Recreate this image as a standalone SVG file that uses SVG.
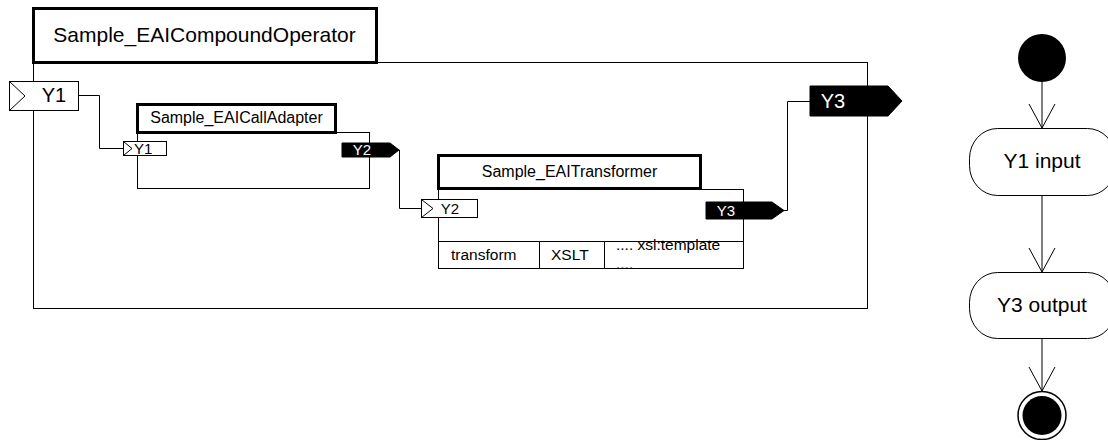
<svg xmlns="http://www.w3.org/2000/svg" width="1108" height="440" viewBox="0 0 1108 440">
<style>
  text { font-family: "Liberation Sans", Arial, sans-serif; fill: #000; }
  .box { fill: #fff; stroke: #000; stroke-width: 1; }
  .title { fill: #fff; stroke: #000; stroke-width: 3; }
  .inport { fill: #fff; stroke: #000; stroke-width: 1; }
  .tri { fill: none; stroke: #000; stroke-width: 1; }
  .outport { fill: #000; stroke: #000; stroke-width: 1; }
  .wt { fill: #fff; }
  .conn { fill: none; stroke: #000; stroke-width: 1; }
  .act { fill: #fff; stroke: #000; stroke-width: 1; }
</style>
<defs>
  <clipPath id="cellclip"><rect x="605" y="238" width="139" height="31"/></clipPath>
</defs>
<rect width="1108" height="440" fill="#fff"/>

<g id="compound">
  <rect class="box" x="33.5" y="62.5" width="834" height="246"/>
  <rect class="title" x="33.5" y="8.5" width="343" height="54"/>
  <text x="204.5" y="42" font-size="21" text-anchor="middle">Sample_EAICompoundOperator</text>
</g>

<g id="port-Y1-in">
  <rect class="inport" x="9.5" y="81.5" width="69" height="29"/>
  <polyline class="tri" points="9.5,81.5 25,96 9.5,110.5"/>
  <text x="54" y="102" font-size="20" text-anchor="middle">Y1</text>
</g>

<g id="port-Y3-out">
  <polygon class="outport" points="810,86 888,86 902,101 888,116 810,116"/>
  <text class="wt" x="833" y="108" font-size="20" text-anchor="middle">Y3</text>
</g>

<g id="calladapter">
  <rect class="box" x="137.5" y="132.5" width="232" height="56"/>
  <rect class="title" x="137.5" y="104.5" width="198" height="28"/>
  <text x="236.5" y="123" font-size="16" text-anchor="middle">Sample_EAICallAdapter</text>
</g>

<g id="calladapter-Y1">
  <rect class="inport" x="123.5" y="141.5" width="43" height="14"/>
  <polyline class="tri" points="123.5,141.5 132,148.5 123.5,155.5"/>
  <text x="134" y="154" font-size="15">Y1</text>
</g>

<g id="calladapter-Y2">
  <polygon class="outport" points="342,143 390,143 399,150 390,157 342,157"/>
  <text class="wt" x="362" y="155" font-size="15" text-anchor="middle">Y2</text>
</g>

<g id="transformer">
  <rect class="box" x="438.5" y="189.5" width="305" height="79"/>
  <rect class="title" x="438.5" y="155.5" width="262" height="33"/>
  <text x="569.5" y="177" font-size="16" text-anchor="middle">Sample_EAITransformer</text>
  <rect class="box" x="438.5" y="241.5" width="305" height="27"/>
  <line class="conn" x1="539.5" y1="241.5" x2="539.5" y2="268.5"/>
  <line class="conn" x1="604.5" y1="241.5" x2="604.5" y2="268.5"/>
  <text x="451" y="260" font-size="15.5">transform</text>
  <text x="551" y="260" font-size="15.5">XSLT</text>
  <g clip-path="url(#cellclip)">
    <text x="616" y="250" font-size="15.5">.... xsl:template</text>
    <text x="616" y="268.5" font-size="15.5">....</text>
  </g>
  <line class="conn" x1="438.5" y1="268.5" x2="743.5" y2="268.5"/>
</g>

<g id="transformer-Y2">
  <rect class="inport" x="421.5" y="199.5" width="56" height="18"/>
  <polyline class="tri" points="421.5,199.5 433,208.5 421.5,217.5"/>
  <text x="450" y="214" font-size="15" text-anchor="middle">Y2</text>
</g>

<g id="transformer-Y3">
  <polygon class="outport" points="706,202 772,202 784,210.5 772,219 706,219"/>
  <text class="wt" x="726" y="216" font-size="15" text-anchor="middle">Y3</text>
</g>

<g id="start">
  <circle cx="1042" cy="58" r="24" fill="#000"/>
</g>
<g id="y1input">
  <rect class="act" x="969.5" y="128.5" width="146" height="67" rx="28" ry="30"/>
  <text x="1042" y="168" font-size="21" text-anchor="middle">Y1 input</text>
</g>
<g id="y3output">
  <rect class="act" x="969.5" y="272.5" width="146" height="66" rx="28" ry="30"/>
  <text x="1042" y="312" font-size="21" text-anchor="middle">Y3 output</text>
</g>
<g id="end">
  <circle cx="1042" cy="415.5" r="24" fill="#fff" stroke="#000" stroke-width="1.5"/>
  <circle cx="1042" cy="415.5" r="19.5" fill="#000"/>
</g>

<g id="connectors">
  <polyline class="conn" points="79,95.5 99.5,95.5 99.5,148.5 123.5,148.5"/>
  <polyline class="conn" points="399,150 399.5,150 399.5,208.5 421.5,208.5"/>
  <polyline class="conn" points="784,210.5 787.5,210.5 787.5,101.5 810,101.5"/>
  <line class="conn" x1="1042" y1="82" x2="1042" y2="128"/>
  <polyline class="conn" points="1029,104 1042,128 1055,104"/>
  <line class="conn" x1="1042" y1="196" x2="1042" y2="272"/>
  <polyline class="conn" points="1029,248 1042,272 1055,248"/>
  <line class="conn" x1="1042" y1="339" x2="1042" y2="391"/>
  <polyline class="conn" points="1029,367 1042,391 1055,367"/>
</g>
</svg>
